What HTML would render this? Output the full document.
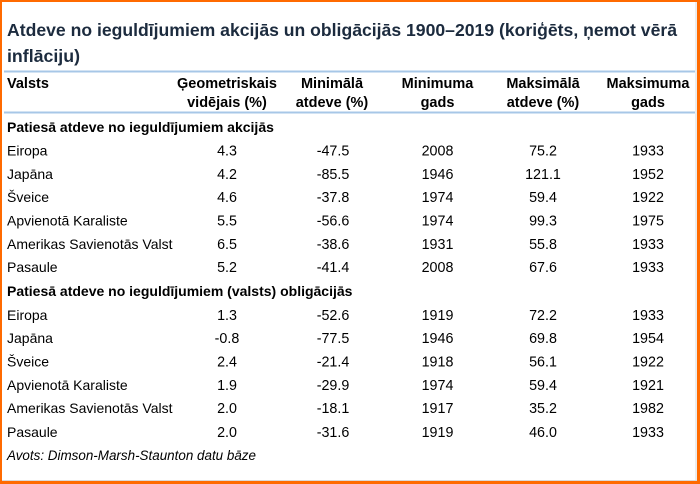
<!DOCTYPE html>
<html><head><meta charset="utf-8"><style>
html,body{margin:0;padding:0;background:#fff;}
svg{display:block;}
text{font-family:"Liberation Sans",sans-serif;fill:#000;}
.t{font-weight:bold;font-size:17.5px;fill:#1c2b3e;}
.h{font-weight:bold;font-size:14.5px;text-anchor:middle;}
.hl{font-weight:bold;font-size:14.5px;}
.s{font-weight:bold;font-size:14px;}
.r{font-size:14px;}
.v{font-size:14.3px;text-anchor:middle;}
.a{font-size:13.5px;font-style:italic;}
</style></head><body>
<svg width="700" height="484" viewBox="0 0 700 484" xmlns="http://www.w3.org/2000/svg">
<rect x="0" y="0" width="700" height="484" fill="#fff"/>
<!-- border -->
<line x1="696" y1="2" x2="696" y2="481" stroke="#d9d9d9" stroke-width="1"/>
<line x1="2" y1="480.5" x2="697" y2="480.5" stroke="#d9d9d9" stroke-width="1"/>
<rect x="0" y="0" width="700" height="2" fill="#ff6a00"/>
<rect x="0" y="0" width="2" height="484" fill="#ff6a00"/>
<rect x="697" y="0" width="3" height="484" fill="#ff6a00"/>
<rect x="0" y="481" width="700" height="3" fill="#ff6a00"/>

<!-- title -->
<text class="t" x="7" y="36" textLength="670" lengthAdjust="spacingAndGlyphs">Atdeve no ieguldījumiem akcijās un obligācijās 1900–2019 (koriģēts, ņemot vērā</text>
<text class="t" x="7" y="62" textLength="73" lengthAdjust="spacingAndGlyphs">inflāciju)</text>

<!-- header lines -->
<rect x="4" y="70.5" width="691" height="2" fill="#a7c7e7"/>
<rect x="4" y="111.5" width="691" height="2" fill="#a7c7e7"/>

<!-- header -->
<text class="hl" x="7" y="88">Valsts</text>
<text class="h" x="227" y="88">Ģeometriskais</text>
<text class="h" x="227" y="107">vidējais (%)</text>
<text class="h" x="332" y="88">Minimālā</text>
<text class="h" x="332" y="107">atdeve (%)</text>
<text class="h" x="437.5" y="88">Minimuma</text>
<text class="h" x="437.5" y="107">gads</text>
<text class="h" x="543" y="88">Maksimālā</text>
<text class="h" x="543" y="107">atdeve (%)</text>
<text class="h" x="648" y="88">Maksimuma</text>
<text class="h" x="648" y="107">gads</text>

<!-- section 1 -->
<text class="s" x="7" y="132">Patiesā atdeve no ieguldījumiem akcijās</text>

<text class="r" x="7" y="155.5">Eiropa</text>
<text class="v" x="227" y="155.5">4.3</text><text class="v" x="333" y="155.5">-47.5</text><text class="v" x="437.5" y="155.5">2008</text><text class="v" x="543" y="155.5">75.2</text><text class="v" x="648" y="155.5">1933</text>

<text class="r" x="7" y="179">Japāna</text>
<text class="v" x="227" y="179">4.2</text><text class="v" x="333" y="179">-85.5</text><text class="v" x="437.5" y="179">1946</text><text class="v" x="543" y="179">121.1</text><text class="v" x="648" y="179">1952</text>

<text class="r" x="7" y="202">Šveice</text>
<text class="v" x="227" y="202">4.6</text><text class="v" x="333" y="202">-37.8</text><text class="v" x="437.5" y="202">1974</text><text class="v" x="543" y="202">59.4</text><text class="v" x="648" y="202">1922</text>

<text class="r" x="7" y="225.5">Apvienotā Karaliste</text>
<text class="v" x="227" y="225.5">5.5</text><text class="v" x="333" y="225.5">-56.6</text><text class="v" x="437.5" y="225.5">1974</text><text class="v" x="543" y="225.5">99.3</text><text class="v" x="648" y="225.5">1975</text>

<text class="r" x="7" y="249">Amerikas Savienotās Valst</text>
<text class="v" x="227" y="249">6.5</text><text class="v" x="333" y="249">-38.6</text><text class="v" x="437.5" y="249">1931</text><text class="v" x="543" y="249">55.8</text><text class="v" x="648" y="249">1933</text>

<text class="r" x="7" y="272">Pasaule</text>
<text class="v" x="227" y="272">5.2</text><text class="v" x="333" y="272">-41.4</text><text class="v" x="437.5" y="272">2008</text><text class="v" x="543" y="272">67.6</text><text class="v" x="648" y="272">1933</text>

<!-- section 2 -->
<text class="s" x="7" y="296">Patiesā atdeve no ieguldījumiem (valsts) obligācijās</text>

<text class="r" x="7" y="320">Eiropa</text>
<text class="v" x="227" y="320">1.3</text><text class="v" x="333" y="320">-52.6</text><text class="v" x="437.5" y="320">1919</text><text class="v" x="543" y="320">72.2</text><text class="v" x="648" y="320">1933</text>

<text class="r" x="7" y="343">Japāna</text>
<text class="v" x="227" y="343">-0.8</text><text class="v" x="333" y="343">-77.5</text><text class="v" x="437.5" y="343">1946</text><text class="v" x="543" y="343">69.8</text><text class="v" x="648" y="343">1954</text>

<text class="r" x="7" y="366.5">Šveice</text>
<text class="v" x="227" y="366.5">2.4</text><text class="v" x="333" y="366.5">-21.4</text><text class="v" x="437.5" y="366.5">1918</text><text class="v" x="543" y="366.5">56.1</text><text class="v" x="648" y="366.5">1922</text>

<text class="r" x="7" y="390">Apvienotā Karaliste</text>
<text class="v" x="227" y="390">1.9</text><text class="v" x="333" y="390">-29.9</text><text class="v" x="437.5" y="390">1974</text><text class="v" x="543" y="390">59.4</text><text class="v" x="648" y="390">1921</text>

<text class="r" x="7" y="413">Amerikas Savienotās Valst</text>
<text class="v" x="227" y="413">2.0</text><text class="v" x="333" y="413">-18.1</text><text class="v" x="437.5" y="413">1917</text><text class="v" x="543" y="413">35.2</text><text class="v" x="648" y="413">1982</text>

<text class="r" x="7" y="437">Pasaule</text>
<text class="v" x="227" y="437">2.0</text><text class="v" x="333" y="437">-31.6</text><text class="v" x="437.5" y="437">1919</text><text class="v" x="543" y="437">46.0</text><text class="v" x="648" y="437">1933</text>

<text class="a" x="7" y="460" textLength="249" lengthAdjust="spacingAndGlyphs">Avots: Dimson-Marsh-Staunton datu bāze</text>
</svg>
</body></html>
